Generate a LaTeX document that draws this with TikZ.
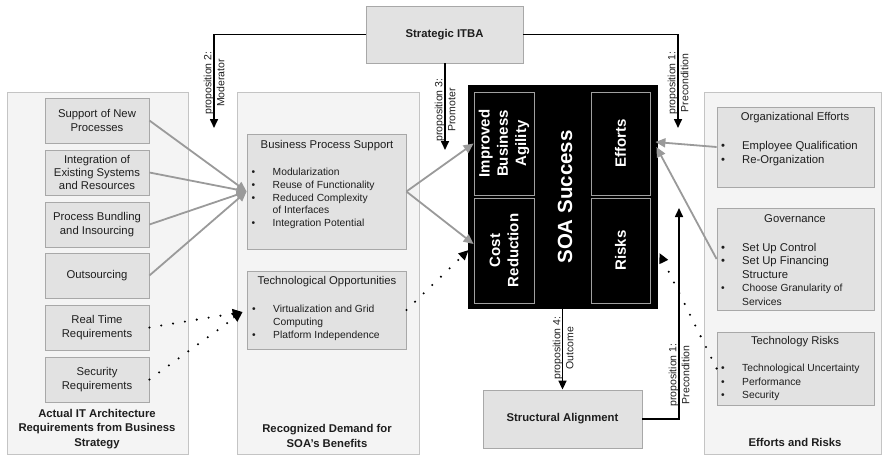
\documentclass[tikz,border=0pt]{standalone}
\usepackage{fontspec}
\setmainfont{Liberation Sans}
\usetikzlibrary{arrows.meta,calc}
\definecolor{panelfill}{HTML}{F4F4F4}
\definecolor{panelline}{HTML}{C4C4C4}
\definecolor{boxfill}{HTML}{E2E2E2}
\definecolor{boxline}{HTML}{A8A8A8}
\definecolor{txt}{HTML}{1E1E1E}
\definecolor{arrgrey}{HTML}{9A9A9A}
\definecolor{innerline}{HTML}{A0A0A0}
\newcommand\itembul{\makebox[21pt][l]{\textbullet}}
\newcommand\itemind{\hspace*{21pt}}
\begin{document}
\begin{tikzpicture}[x=1pt,y=-1pt,
  panel/.style={draw=panelline, fill=panelfill, line width=0.8pt, inner sep=0pt},
  box/.style={draw=boxline, fill=boxfill, line width=0.8pt, inner sep=2pt, align=center, text=txt, font=\fontsize{11.3}{13.3}\selectfont},
  boldbox/.style={box, font=\bfseries\fontsize{11.3}{13.3}\selectfont},
  plabel/.style={align=center, inner sep=0pt, text=txt, font=\bfseries\fontsize{11.3}{14.5}\selectfont},
  title/.style={inner sep=0pt, text=txt, font=\fontsize{11.3}{13}\selectfont},
  lst/.style={anchor=north west, align=left, inner sep=0pt, text=txt, font=\fontsize{10.3}{12.7}\selectfont},
  blkbox/.style={draw=black, fill=black, line width=0.8pt, inner sep=0pt},
  inbox/.style={draw=innerline, fill=black, line width=0.8pt, inner sep=0pt},
  wtxt/.style={rotate=90, align=center, inner sep=0pt, text=white, font=\bfseries\fontsize{15}{18.3}\selectfont},
  soatxt/.style={rotate=90, inner sep=0pt, text=white, font=\bfseries\fontsize{20.5}{24}\selectfont},
  prop/.style={rotate=90, align=center, inner sep=0pt, text=txt, font=\fontsize{10.5}{13}\selectfont},
  conn/.style={draw=black, line width=1.6pt, -{Triangle[length=9pt,width=8pt]}},
  garr/.style={draw=arrgrey, line width=1.8pt, -{Triangle[length=10pt,width=9pt]}},
  darr/.style={draw=black, line width=2.3pt, line cap=round, dash pattern=on 0pt off 12pt, -{Triangle[length=10pt,width=9pt]}}
]
\useasboundingbox (0,0) rectangle (883,455);

% panels
\node[panel, minimum width=181pt, minimum height=362pt] (pl) at (97.5,273) {};
\node[panel, minimum width=182pt, minimum height=362pt] (pm) at (328,273) {};
\node[panel, minimum width=177pt, minimum height=362pt] (pr) at (792.5,273) {};
\node[plabel] (lbl) at (97,429) {Actual IT Architecture\\Requirements from Business\\Strategy};
\node[plabel] (mlbl) at (327,436) {Recognized Demand for\\SOA's Benefits};
\node[plabel] (rlbl) at (795,442) {Efforts and Risks};

% left boxes
\node[box, minimum width=104pt, minimum height=45pt] (s1) at (97,120.5) {Support of New\\Processes};
\node[box, minimum width=104pt, minimum height=45pt] (s2) at (97,172.5) {Integration of\\Existing Systems\\and Resources};
\node[box, minimum width=104pt, minimum height=45pt] (s3) at (97,224.5) {Process Bundling\\and Insourcing};
\node[box, minimum width=104pt, minimum height=45pt] (s4) at (97,275.5) {Outsourcing};
\node[box, minimum width=104pt, minimum height=45pt] (s5) at (97,327.5) {Real Time\\Requirements};
\node[box, minimum width=104pt, minimum height=45pt] (s6) at (97,379.5) {Security\\Requirements};

% middle boxes
\node[box, minimum width=159pt, minimum height=115pt] (bps) at (326.5,191.5) {};
\node[title] (bpst) at (327,146) {Business Process Support};
\node[lst] (bpsl) at (251.5,168) {\itembul Modularization\\ \itembul Reuse of Functionality\\ \itembul Reduced Complexity\\ \itemind of Interfaces\\ \itembul Integration Potential};
\node[box, minimum width=159pt, minimum height=78pt] (to) at (326.5,310) {};
\node[title] (tot) at (327,282) {Technological Opportunities};
\node[lst] (tol) at (252,305) {\itembul Virtualization and Grid\\ \itemind Computing\\ \itembul Platform Independence};

% right boxes
\node[box, minimum width=157pt, minimum height=80pt] (oe) at (795.5,147) {};
\node[title] (oet) at (795,118) {Organizational Efforts};
\node[lst, font=\fontsize{11.3}{14}\selectfont] (oel) at (721,141) {\itembul Employee Qualification\\ \itembul Re-Organization};
\node[box, minimum width=157pt, minimum height=102pt] (gov) at (795.5,259) {};
\node[title] (govt) at (795,219) {Governance};
\node[lst, font=\fontsize{11.3}{13.5}\selectfont] (govl) at (721,243) {\itembul Set Up Control\\ \itembul Set Up Financing\\ \itemind Structure\\ {\fontsize{10.3}{13.5}\selectfont\itembul Choose Granularity of}\\ {\fontsize{10.3}{13.5}\selectfont\itemind Services}};
\node[box, minimum width=157pt, minimum height=73pt] (tr) at (795.5,368.5) {};
\node[title] (trt) at (795,342) {Technology Risks};
\node[lst, font=\fontsize{10.3}{13.5}\selectfont] (trl) at (721,364) {\itembul Technological Uncertainty\\ \itembul Performance\\ \itembul Security};

% top and bottom boxes
\node[boldbox, minimum width=157pt, minimum height=57pt] (itba) at (444.5,34.5) {Strategic ITBA};
\node[boldbox, minimum width=159pt, minimum height=58pt] (sa) at (562.5,419) {Structural Alignment};

% SOA success block
\node[blkbox, minimum width=189pt, minimum height=223pt] (soa) at (562.5,196.5) {};
\node[inbox, minimum width=60pt, minimum height=103pt] (iba) at (504,143.5) {};
\node[inbox, minimum width=60pt, minimum height=105pt] (cr) at (504,250.5) {};
\node[inbox, minimum width=59pt, minimum height=103pt] (eff) at (620.5,143.5) {};
\node[inbox, minimum width=59pt, minimum height=105pt] (rk) at (620.5,250.5) {};
\node[wtxt] (ibat) at (504,143.5) {Improved\\Business\\Agility};
\node[wtxt] (crt) at (504,250.5) {Cost\\Reduction};
\node[wtxt] (efft) at (620.5,143.5) {Efforts};
\node[wtxt] (rkt) at (620.5,250.5) {Risks};
\node[soatxt] (soat) at (565,197) {SOA Success};

% proposition connectors
\coordinate (p2) at (214,128);
\draw[conn] (itba.west) -| (p2);
\node[prop] (p2l) at (214,83) {proposition 2:\\Moderator};
\coordinate (p3) at (445,150);
\draw[conn] (itba.south -| p3) -- (p3);
\node[prop] (p3l) at (445,110) {proposition 3:\\Promoter};
\coordinate (p1a) at (678,128);
\draw[conn] (itba.east) -| (p1a);
\node[prop] (p1al) at (678,83) {proposition 1:\\Precondition};
\draw[conn] (soa.south) -- (sa.north);
\node[prop] (p4l) at (563,348) {proposition 4:\\Outcome};
\coordinate (p1b) at (679,208);
\draw[conn] (sa.east) -| (p1b);
\node[prop] (p1bl) at (679,375) {proposition 1:\\Precondition};

% grey arrows
\foreach \s in {s1,s2,s3,s4} \draw[garr] (\s.east) -- (bps.west);
\draw[garr] (bps.east) -- (iba.west);
\draw[garr] (bps.east) -- (cr.168);
\coordinate (effa) at ($(eff.east)+(5,-1.5)$);
\coordinate (effb) at ($(eff.east)+(6,3.5)$);
\draw[garr] (oe.west) -- (effa);
\draw[garr] (gov.west) -- (effb);

% dotted arrows
\coordinate (todot) at ($(to.west)+(-4,2)$);
\draw[darr] (s5.east) -- (todot);
\draw[darr] (s6.east) -- (todot);
\coordinate (crdot) at ($(soa.west)+(1,53.5)$);
\draw[darr] (to.east) -- (crdot);
\coordinate (rkdot) at ($(soa.east)+(2,56.5)$);
\draw[darr] (tr.west) -- (rkdot);
\end{tikzpicture}
\end{document}
